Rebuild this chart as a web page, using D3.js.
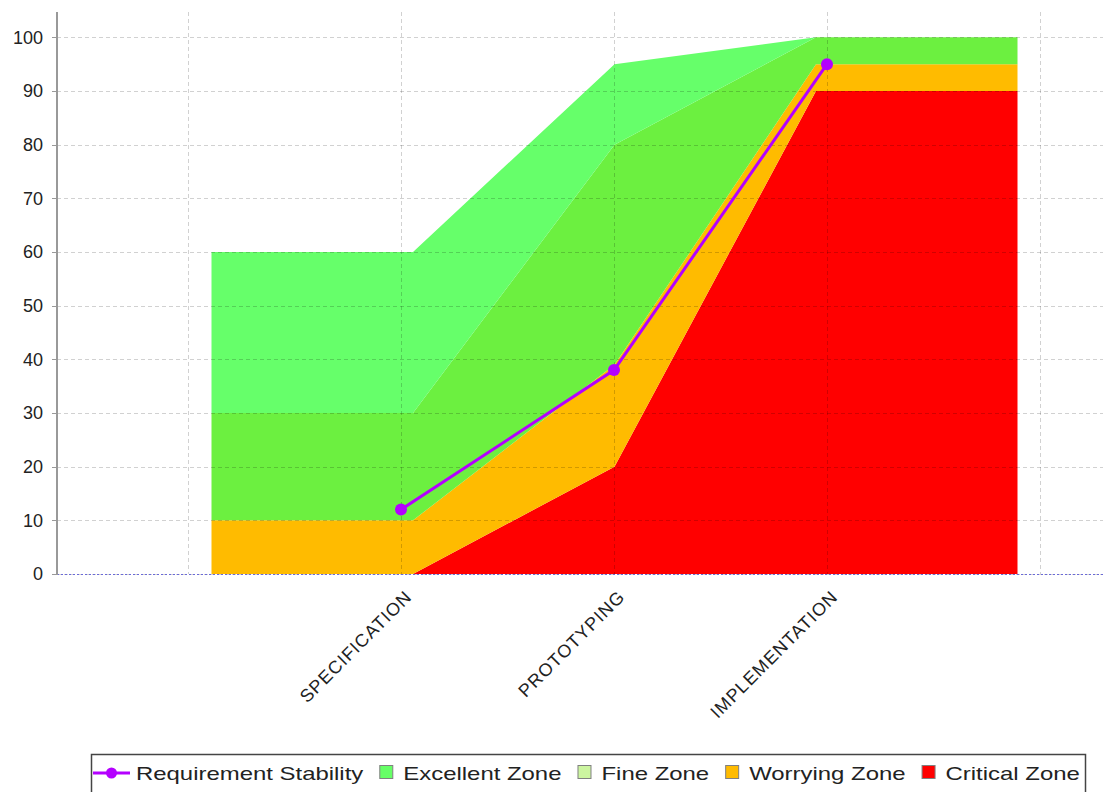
<!DOCTYPE html>
<html><head><meta charset="utf-8">
<script src="https://cdn.jsdelivr.net/npm/d3@7"></script>
<style>body{margin:0;background:#fff}svg{display:block}</style>
</head><body><svg id="c" width="1103" height="792"></svg>
<script>
// ---- data ----
const categories = ["SPECIFICATION", "PROTOTYPING", "IMPLEMENTATION"];
const stability = [12, 38, 95];
const criticalZone = [0, 20, 90];
const worryingZone = [10, 19, 5];
const fineZone = [20, 41, 5];
const excellentZone = [30, 15, 0];
const yTicks = [0, 10, 20, 30, 40, 50, 60, 70, 80, 90, 100];
const legendLabels = ["Requirement Stability", "Excellent Zone", "Fine Zone", "Worrying Zone", "Critical Zone"];

// ---- styles ----
const fillColors = { critical: "#ff0000", worrying: "#ffbb00", fine: "#6cf040", excellent: "#66ff6a" };
const swatchColors = ["#66ff66", "#ccf5a0", "#ffbb00", "#ff0000"];
const lineColor = "#b400ff";
const FONT = "'Liberation Sans', Arial, sans-serif";

const svg = d3.select("#c");
const plotL = 57, plotR = 1103, plotT = 12, plotB = 574;

const y = d3.scaleLinear().domain([0, 105]).range([plotB, 10.5]);
const xLine = d3.scalePoint().domain(categories).range([401, 827]);
const xArea = d3.scalePoint().domain(categories).range([413, 816]);

const rows = categories.map((c, i) => ({
  cat: c, critical: criticalZone[i], worrying: worryingZone[i], fine: fineZone[i], excellent: excellentZone[i]
}));
const keys = ["critical", "worrying", "fine", "excellent"];
const stacked = d3.stack().keys(keys)(rows);

const area = d3.area().x(d => d.x).y0(d => y(d.y0)).y1(d => y(d.y1));
const gArea = svg.append("g");
stacked.forEach(layer => {
  const pts = layer.map(d => ({ x: xArea(d.data.cat), y0: d[0], y1: d[1] }));
  const first = pts[0], last = pts[pts.length - 1];
  const full = [{ x: first.x - xArea.step(), y0: first.y0, y1: first.y1 }, ...pts,
                { x: last.x + xArea.step(), y0: last.y0, y1: last.y1 }];
  gArea.append("path").attr("d", area(full)).attr("fill", fillColors[layer.key]);
});

// gridlines
const gGrid = svg.append("g").attr("stroke", "rgba(0,0,0,0.18)").attr("stroke-dasharray", "4,3").attr("stroke-width", 1);
yTicks.forEach(t => {
  gGrid.append("line").attr("x1", plotL).attr("x2", plotR).attr("y1", Math.round(y(t)) + 0.5).attr("y2", Math.round(y(t)) + 0.5);
});
const gx = categories.map(c => xLine(c));
const gridXs = [gx[0] - xLine.step(), ...gx, gx[gx.length - 1] + xLine.step()];
gridXs.forEach(x => {
  gGrid.append("line").attr("x1", Math.round(x) + 0.5).attr("x2", Math.round(x) + 0.5).attr("y1", plotT).attr("y2", plotB);
});

// zero baseline
svg.append("line").attr("x1", plotL).attr("x2", plotR).attr("y1", y(0) + 0.5).attr("y2", y(0) + 0.5)
  .attr("stroke", "#6a6ad8").attr("stroke-width", 1).attr("stroke-dasharray", "2,2");

// y axis
svg.append("line").attr("x1", plotL).attr("x2", plotL).attr("y1", plotT).attr("y2", plotB + 1)
  .attr("stroke", "#999").attr("stroke-width", 2);
const gY = svg.append("g");
yTicks.forEach(t => {
  gY.append("line").attr("x1", plotL - 5).attr("x2", plotL).attr("y1", Math.round(y(t)) + 0.5).attr("y2", Math.round(y(t)) + 0.5)
    .attr("stroke", "#999").attr("stroke-width", 1);
  gY.append("text").attr("x", 43).attr("y", y(t)).attr("dy", "0.36em").attr("text-anchor", "end")
    .attr("font-family", FONT).attr("font-size", 18).attr("fill", "#222").text(t);
});

// x labels
categories.forEach(c => {
  svg.append("text").attr("transform", `translate(${xLine(c) + 12},${plotB + 24}) rotate(-45)`)
    .attr("text-anchor", "end").attr("font-family", FONT).attr("font-size", 18)
    .attr("letter-spacing", 1).attr("fill", "#222").text(c);
});

// stability line
const line = d3.line().x((d, i) => xLine(categories[i])).y(d => y(d));
svg.append("path").attr("d", line(stability)).attr("fill", "none").attr("stroke", lineColor).attr("stroke-width", 3);
stability.forEach((v, i) => {
  svg.append("circle").attr("cx", xLine(categories[i])).attr("cy", y(v)).attr("r", 6).attr("fill", lineColor);
});

// legend
const gL = svg.append("g");
gL.append("rect").attr("x", 91.5).attr("y", 754.5).attr("width", 994).attr("height", 60)
  .attr("fill", "#fff").attr("stroke", "#444").attr("stroke-width", 1.5);
const ly = 780, sx = 1.33;
let cx = 93;
legendLabels.forEach((lab, i) => {
  if (i === 0) {
    gL.append("line").attr("x1", cx).attr("x2", cx + 37).attr("y1", ly - 7).attr("y2", ly - 7)
      .attr("stroke", lineColor).attr("stroke-width", 3);
    gL.append("circle").attr("cx", cx + 18.5).attr("cy", ly - 7).attr("r", 5.5).attr("fill", lineColor);
    cx += 43;
  } else {
    gL.append("rect").attr("x", cx + 0.5).attr("y", ly - 14.5).attr("width", 13).attr("height", 13)
      .attr("fill", swatchColors[i - 1]).attr("stroke", "#808080").attr("stroke-width", 1);
    cx += 24;
  }
  const t = gL.append("text").attr("transform", `translate(${cx},${ly}) scale(${sx},1)`)
    .attr("font-family", FONT).attr("font-size", 18).attr("fill", "#222").text(lab);
  cx += t.node().getComputedTextLength() * sx + 16;
});
</script></body></html>
